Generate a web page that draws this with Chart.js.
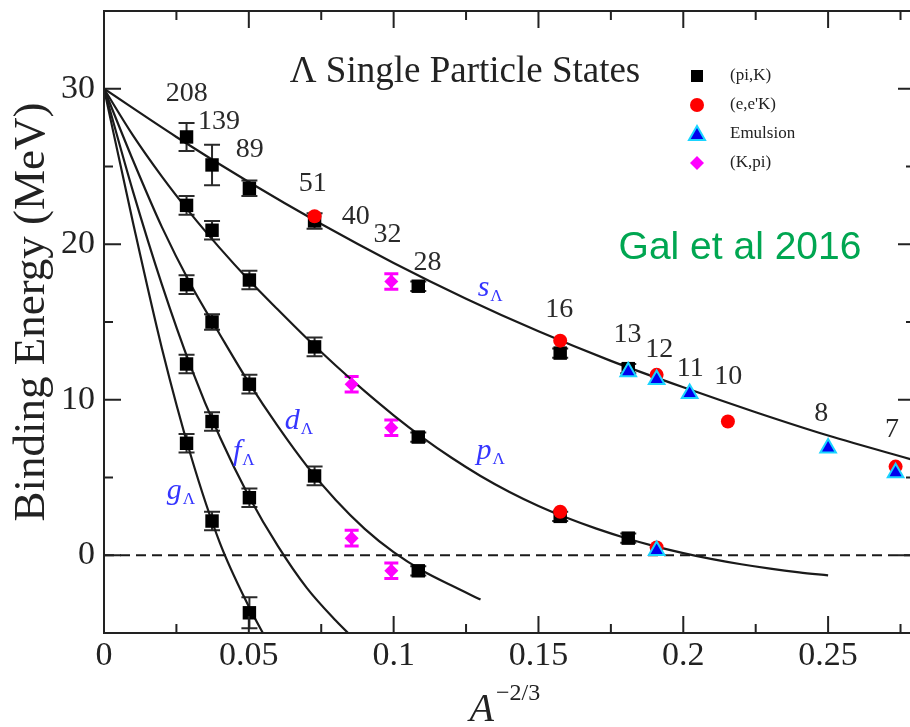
<!DOCTYPE html>
<html>
<head>
<meta charset="utf-8">
<title>Lambda single particle states</title>
<script src="https://cdn.jsdelivr.net/npm/chart.js@4.4.1/dist/chart.umd.min.js"></script>
<style>
    html, body { margin: 0; padding: 0; background: #fff; overflow: hidden; }
    #wrap { width: 926px; height: 727px; }
</style>
</head>
<body>
<div id="wrap"><canvas id="lambda-chart" width="926" height="727"></canvas></div>
<script>
    "use strict";

    // hypernuclear mass numbers and where they are written
    var massNumbers = ['208', '139', '89', '51', '40', '32', '28', '16', '13', '12', '11', '10', '8', '7'];
    var massLabelX = [0.0286, 0.0397, 0.0503, 0.0721, 0.0869, 0.0979, 0.1117, 0.1572, 0.1807, 0.1917, 0.2024, 0.2155, 0.2476, 0.2721];
    var massLabelY = [29.7, 27.9, 26.1, 23.9, 21.8, 20.6, 18.8, 15.8, 14.2, 13.2, 12.0, 11.5, 9.1, 8.1];

    // (pi,K) data: s, p, d, f, g shells
    var piKx = [0.0285, 0.0373, 0.0502, 0.0727, 0.1085, 0.1575, 0.1810,
                0.0285, 0.0373, 0.0502, 0.0727, 0.1085, 0.1575, 0.1810,
                0.0285, 0.0373, 0.0502, 0.0727, 0.1085,
                0.0285, 0.0373, 0.0502,
                0.0285, 0.0373, 0.0502];
    var piKy = [26.9, 25.1, 23.6, 21.5, 17.3, 13.0, 12.0,
                22.5, 20.9, 17.7, 13.4, 7.6, 2.5, 1.1,
                17.4, 15.0, 11.0, 5.1, -1.0,
                12.3, 8.6, 3.7,
                7.2, 2.2, -3.7];
    var piKerr = [0.9, 1.3, 0.5, 0.5, 0.3, 0.3, 0.3,
                  0.6, 0.6, 0.6, 0.6, 0.3, 0.3, 0.3,
                  0.6, 0.5, 0.6, 0.6, 0.3,
                  0.6, 0.6, 0.6,
                  0.6, 0.6, 1.0];

    // (e,e'K) data
    var eeKx = [0.0727, 0.1575, 0.1908, 0.2154, 0.2733, 0.1575, 0.1908];
    var eeKy = [21.8, 13.8, 11.6, 8.6, 5.7, 2.8, 0.5];

    // emulsion data
    var emulX = [0.1810, 0.1908, 0.2022, 0.2500, 0.2733, 0.1908];
    var emulY = [11.8, 11.3, 10.4, 6.9, 5.3, 0.3];

    // (K,pi) data
    var kPiX = [0.0992, 0.0855, 0.0992, 0.0855, 0.0992];
    var kPiY = [17.6, 11.0, 8.2, 1.1, -1.0];
    var kPiErr = [0.5, 0.5, 0.5, 0.5, 0.5];

    // fitted single particle curves
    var sCurveX = [0, 0.025, 0.05, 0.075, 0.1, 0.125, 0.15, 0.175, 0.2, 0.225, 0.25, 0.28];
    var sCurveY = [30, 26.9, 24.0, 21.3, 18.8, 16.5, 14.4, 12.5, 10.8, 9.2, 7.7, 6.1];
    var pCurveX = [0, 0.01, 0.02, 0.03, 0.04, 0.05, 0.06, 0.07, 0.08, 0.09, 0.1, 0.11, 0.12, 0.13, 0.14,
                   0.15, 0.16, 0.17, 0.18, 0.19, 0.2, 0.21, 0.22, 0.23, 0.24, 0.25];
    var pCurveY = [30, 27.0, 24.35, 21.95, 19.75, 17.7, 15.8, 13.95, 12.2, 10.55, 9.0, 7.57, 6.27, 5.1, 4.07,
                   3.17, 2.39, 1.71, 1.11, 0.59, 0.14, -0.25, -0.58, -0.86, -1.1, -1.3];
    var dCurveX = [0, 0.01, 0.02, 0.03, 0.04, 0.05, 0.06, 0.07, 0.08, 0.09, 0.1, 0.11, 0.12, 0.13];
    var dCurveY = [30, 25.4, 21.1, 17.4, 14.2, 11.1, 8.3, 5.75, 3.55, 1.7, 0.2, -1.0, -1.95, -2.85];
    var fCurveX = [0, 0.01, 0.02, 0.03, 0.04, 0.05, 0.06, 0.07, 0.08, 0.087];
    var fCurveY = [30, 23.4, 17.4, 12.1, 7.6, 3.8, 0.6, -2.1, -4.2, -5.5];
    var gCurveX = [0, 0.01, 0.02, 0.03, 0.04, 0.05, 0.056];
    var gCurveY = [30, 21.4, 13.3, 6.4, 0.8, -3.3, -5.4];

    // axis ticks
    var xTickValues = [0, 0.05, 0.1, 0.15, 0.2, 0.25];
    var xTickLabels = ['0', '0.05', '0.1', '0.15', '0.2', '0.25'];
    var xMinorTicks = [0.025, 0.075, 0.125, 0.175, 0.225, 0.275];
    var yTickValues = [0, 10, 20, 30];
    var yTickLabels = ['0', '10', '20', '30'];
    var yMinorTicks = [-5, 5, 15, 25, 35];

    // curve names, placed next to their curves
    var curveNames = ['s', 'p', 'd', 'f', 'g'];
    var curveNameX = [0.1290, 0.1286, 0.0624, 0.0445, 0.0217];
    var curveNameY = [16.7, 6.2, 8.1, 6.1, 3.6];

    var SERIF = '"Liberation Serif", "DejaVu Serif", serif';
    var INK = '#1a1a1a';

    function points(xs, ys) {
        return xs.map(function (x, i) { return {x: x, y: ys[i]}; });
    }

    function curve(xs, ys) {
        return {
            type: 'line',
            data: points(xs, ys),
            showLine: true,
            borderColor: INK,
            borderWidth: 2.2,
            pointRadius: 0,
            fill: false,
            cubicInterpolationMode: 'monotone',
            clip: 0,
            order: 10
        };
    }

    function errorBars(chart, xs, ys, errs, color, width, cap) {
        var ctx = chart.ctx;
        var sx = chart.scales.x, sy = chart.scales.y;
        var area = chart.chartArea;
        ctx.save();
        ctx.beginPath();
        ctx.rect(area.left, area.top, area.right - area.left, area.bottom - area.top);
        ctx.clip();
        ctx.strokeStyle = color;
        ctx.lineWidth = width;
        ctx.beginPath();
        xs.forEach(function (x, i) {
            var px = sx.getPixelForValue(x);
            var top = sy.getPixelForValue(ys[i] + errs[i]);
            var bot = sy.getPixelForValue(ys[i] - errs[i]);
            ctx.moveTo(px, top); ctx.lineTo(px, bot);
            ctx.moveTo(px - cap, top); ctx.lineTo(px + cap, top);
            ctx.moveTo(px - cap, bot); ctx.lineTo(px + cap, bot);
        });
        ctx.stroke();
        ctx.restore();
    }

    // zero line and error bars go under the markers
    var underlay = {
        id: 'underlay',
        beforeDatasetsDraw: function (chart) {
            var ctx = chart.ctx, area = chart.chartArea;
            var y0 = chart.scales.y.getPixelForValue(0);
            ctx.save();
            ctx.strokeStyle = INK;
            ctx.lineWidth = 2;
            ctx.setLineDash([10, 6]);
            ctx.beginPath();
            ctx.moveTo(area.left, y0);
            ctx.lineTo(area.right, y0);
            ctx.stroke();
            ctx.restore();
            errorBars(chart, piKx, piKy, piKerr, '#2a2a2a', 2, 8);
            errorBars(chart, kPiX, kPiY, kPiErr, '#ff00ff', 3, 7);
        }
    };

    function marker(ctx, kind, x, y) {
        ctx.save();
        ctx.beginPath();
        if (kind === 'square') {
            ctx.fillStyle = '#000';
            ctx.rect(x - 6, y - 6, 12, 12);
            ctx.fill();
        } else if (kind === 'circle') {
            ctx.fillStyle = '#ff0000';
            ctx.arc(x, y, 7, 0, Math.PI * 2);
            ctx.fill();
        } else if (kind === 'triangle') {
            ctx.fillStyle = '#0000ee';
            ctx.strokeStyle = '#1ad4ff';
            ctx.lineWidth = 2;
            ctx.moveTo(x, y - 8);
            ctx.lineTo(x + 8, y + 6);
            ctx.lineTo(x - 8, y + 6);
            ctx.closePath();
            ctx.fill();
            ctx.stroke();
        } else {
            ctx.fillStyle = '#ff00ff';
            ctx.moveTo(x, y - 7);
            ctx.lineTo(x + 7, y);
            ctx.lineTo(x, y + 7);
            ctx.lineTo(x - 7, y);
            ctx.closePath();
            ctx.fill();
        }
        ctx.restore();
    }

    // frame, inward ticks and all the text
    var decorations = {
        id: 'decorations',
        afterDraw: function (chart) {
            var ctx = chart.ctx, area = chart.chartArea;
            var sx = chart.scales.x, sy = chart.scales.y;
            var L = area.left, R = area.right, T = area.top, B = area.bottom;

            ctx.save();
            ctx.strokeStyle = '#222';
            ctx.lineWidth = 2;
            ctx.strokeRect(L, T, R - L, B - T);

            ctx.beginPath();
            xTickValues.forEach(function (v) {
                var px = sx.getPixelForValue(v);
                ctx.moveTo(px, B); ctx.lineTo(px, B - 17);
                ctx.moveTo(px, T); ctx.lineTo(px, T + 17);
            });
            xMinorTicks.forEach(function (v) {
                var px = sx.getPixelForValue(v);
                ctx.moveTo(px, B); ctx.lineTo(px, B - 9);
                ctx.moveTo(px, T); ctx.lineTo(px, T + 9);
            });
            yTickValues.forEach(function (v) {
                var py = sy.getPixelForValue(v);
                ctx.moveTo(L, py); ctx.lineTo(L + 17, py);
                ctx.moveTo(R, py); ctx.lineTo(R - 17, py);
            });
            yMinorTicks.forEach(function (v) {
                var py = sy.getPixelForValue(v);
                ctx.moveTo(L, py); ctx.lineTo(L + 9, py);
                ctx.moveTo(R, py); ctx.lineTo(R - 9, py);
            });
            ctx.stroke();

            // mass numbers
            ctx.fillStyle = '#2a2a2a';
            ctx.font = '28px ' + SERIF;
            ctx.textAlign = 'center';
            ctx.textBaseline = 'middle';
            massNumbers.forEach(function (t, i) {
                ctx.fillText(t, sx.getPixelForValue(massLabelX[i]), sy.getPixelForValue(massLabelY[i]));
            });

            // s_Lambda, p_Lambda ...
            ctx.fillStyle = '#3535ff';
            ctx.textAlign = 'left';
            ctx.textBaseline = 'alphabetic';
            curveNames.forEach(function (t, i) {
                var px = sx.getPixelForValue(curveNameX[i]);
                var py = sy.getPixelForValue(curveNameY[i]);
                ctx.font = 'italic 30px ' + SERIF;
                ctx.fillText(t, px, py);
                var w = ctx.measureText(t).width;
                ctx.font = '17px ' + SERIF;
                ctx.fillText('\u039B', px + w + 1, py + 5);
            });

            // title inside the frame
            ctx.fillStyle = '#222';
            ctx.textAlign = 'center';
            ctx.textBaseline = 'middle';
            ctx.font = '37px ' + SERIF;
            ctx.fillText('\u039B Single Particle States', L + 361, T + 61);

            // legend
            var kinds = ['square', 'circle', 'triangle', 'diamond'];
            var names = ['(pi,K)', '(e,e\'K)', 'Emulsion', '(K,pi)'];
            ctx.font = '17px ' + SERIF;
            ctx.textAlign = 'left';
            kinds.forEach(function (k, i) {
                var rowY = T + 65 + i * 29;
                marker(ctx, k, L + 593, rowY);
                ctx.fillStyle = '#222';
                ctx.fillText(names[i], L + 626, rowY);
            });

            // source note
            ctx.fillStyle = '#00a651';
            ctx.font = '39px "Liberation Sans", Arial, sans-serif';
            ctx.textAlign = 'center';
            ctx.fillText('Gal et al 2016', L + 636, T + 237);

            // axis titles
            ctx.fillStyle = '#222';
            ctx.save();
            ctx.translate(32, 312);
            ctx.rotate(-Math.PI / 2);
            ctx.font = '45px ' + SERIF;
            ctx.textAlign = 'center';
            ctx.fillText('Binding Energy (MeV)', 0, 0);
            ctx.restore();

            ctx.textAlign = 'left';
            ctx.textBaseline = 'alphabetic';
            ctx.font = 'italic 40px ' + SERIF;
            var ax = (L + R) / 2 - 40;
            ctx.fillText('A', ax, 721);
            var aw = ctx.measureText('A').width;
            ctx.font = '24px ' + SERIF;
            ctx.fillText('\u22122/3', ax + aw + 2, 700);
            ctx.restore();
        }
    };

    // markers drawn by the library, triangles on top
    var markerSets = [
        {data: points(emulX, emulY), pointStyle: 'triangle', radius: 9, bg: '#0000ee', border: '#1ad4ff', bw: 2, order: 1},
        {data: points(kPiX, kPiY), pointStyle: 'rectRot', radius: 7, bg: '#ff00ff', border: '#ff00ff', bw: 0, order: 2},
        {data: points(eeKx, eeKy), pointStyle: 'circle', radius: 7, bg: '#ff0000', border: '#ff0000', bw: 0, order: 3},
        {data: points(piKx, piKy), pointStyle: 'rect', radius: 9.5, bg: '#000000', border: '#000000', bw: 0, order: 4}
    ].map(function (m) {
        return {
            type: 'scatter',
            data: m.data,
            pointStyle: m.pointStyle,
            pointRadius: m.radius,
            pointBackgroundColor: m.bg,
            pointBorderColor: m.border,
            pointBorderWidth: m.bw,
            showLine: false,
            clip: false,
            order: m.order
        };
    });

    var tickFont = {family: SERIF, size: 34};

    new Chart(document.getElementById('lambda-chart'), {
        type: 'scatter',
        data: {
            datasets: markerSets.concat([
                curve(sCurveX, sCurveY),
                curve(pCurveX, pCurveY),
                curve(dCurveX, dCurveY),
                curve(fCurveX, fCurveY),
                curve(gCurveX, gCurveY)
            ])
        },
        options: {
            responsive: false,
            animation: false,
            events: [],
            layout: {padding: {top: 7, right: 4, left: 0, bottom: 0}},
            plugins: {legend: {display: false}, tooltip: {enabled: false}, title: {display: false}},
            scales: {
                x: {
                    type: 'linear',
                    min: 0,
                    max: 0.28,
                    afterFit: function (s) {
                        s.height = 94;
                        s.paddingLeft = 0;
                        s.paddingRight = 0;
                    },
                    afterBuildTicks: function (s) {
                        s.ticks = xTickValues.map(function (v) { return {value: v}; });
                    },
                    grid: {display: false, drawTicks: false},
                    border: {display: false},
                    ticks: {
                        font: tickFont,
                        color: '#222',
                        padding: 3,
                        maxRotation: 0,
                        autoSkip: false,
                        callback: function (v, i) { return xTickLabels[i]; }
                    }
                },
                y: {
                    type: 'linear',
                    min: -5,
                    max: 35,
                    afterFit: function (s) {
                        s.width = 104;
                        s.paddingTop = 0;
                        s.paddingBottom = 0;
                    },
                    afterBuildTicks: function (s) {
                        s.ticks = yTickValues.map(function (v) { return {value: v}; });
                    },
                    grid: {display: false, drawTicks: false},
                    border: {display: false},
                    ticks: {
                        font: tickFont,
                        color: '#222',
                        padding: 9,
                        autoSkip: false,
                        callback: function (v, i) { return yTickLabels[i]; }
                    }
                }
            }
        },
        plugins: [underlay, decorations]
    });
</script>
</body>
</html>
